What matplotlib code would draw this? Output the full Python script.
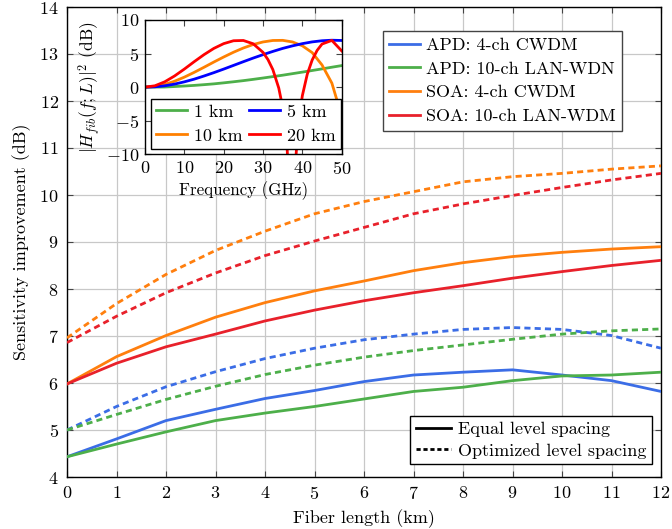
import matplotlib
matplotlib.use("Agg")
import matplotlib.pyplot as plt
from matplotlib.lines import Line2D

plt.rcParams['font.family'] = 'serif'
plt.rcParams['font.serif'] = ['cmr10']
plt.rcParams['mathtext.fontset'] = 'cm'
plt.rcParams['axes.formatter.use_mathtext'] = True
plt.rcParams['axes.unicode_minus'] = True

# main chart data: sensitivity improvement (dB) vs fiber length (km)
km = [0, 1, 2, 3, 4, 5, 6, 7, 8, 9, 10, 11, 12]
apd_cwdm_eq = [4.43, 4.81, 5.2, 5.44, 5.67, 5.84, 6.03, 6.17, 6.23, 6.28, 6.17, 6.05, 5.82]
apd_cwdm_opt = [5.0, 5.5, 5.92, 6.24, 6.52, 6.74, 6.92, 7.04, 7.14, 7.18, 7.14, 7.01, 6.74]
apd_lan_eq = [4.43, 4.7, 4.96, 5.2, 5.36, 5.5, 5.66, 5.82, 5.91, 6.05, 6.15, 6.17, 6.23]
apd_lan_opt = [5.0, 5.33, 5.65, 5.93, 6.18, 6.38, 6.55, 6.69, 6.81, 6.93, 7.04, 7.11, 7.15]
soa_cwdm_eq = [5.98, 6.56, 7.01, 7.4, 7.71, 7.96, 8.17, 8.39, 8.56, 8.69, 8.78, 8.85, 8.9]
soa_cwdm_opt = [6.96, 7.69, 8.31, 8.82, 9.23, 9.6, 9.86, 10.07, 10.28, 10.39, 10.46, 10.55, 10.62]
soa_lan_eq = [5.98, 6.42, 6.77, 7.04, 7.32, 7.55, 7.75, 7.92, 8.07, 8.23, 8.37, 8.5, 8.61]
soa_lan_opt = [6.86, 7.42, 7.92, 8.34, 8.71, 9.02, 9.31, 9.6, 9.81, 9.99, 10.16, 10.32, 10.46]

# inset data: |H_fib(f;L)|^2 in dB vs frequency (GHz)
freq = [0, 2.5, 5, 7.5, 10, 12.5, 15, 17.5, 20, 22.5, 25, 27.5, 30,
        32.5, 35, 37.5, 40, 42.5, 45, 47.5, 50]
h_1km = [0, 0.01, 0.02, 0.09, 0.17, 0.26, 0.37, 0.49, 0.64, 0.8, 0.97, 1.16, 1.36,
         1.57, 1.78, 2.01, 2.24, 2.48, 2.72, 2.97, 3.21]
h_5km = [0, 0.05, 0.2, 0.45, 0.79, 1.19, 1.66, 2.16, 2.69, 3.24, 3.79, 4.33, 4.84,
         5.32, 5.77, 6.15, 6.48, 6.74, 6.91, 6.99, 6.95]
h_10km = [0, 0.1, 0.4, 0.88, 1.49, 2.2, 2.96, 3.74, 4.49, 5.2, 5.83, 6.35, 6.73,
          6.95, 6.97, 6.73, 6.16, 5.14, 3.3, 0.6, -4.3]
freq_20 = [0, 2.5, 5, 7.5, 10, 12.5, 15, 17.5, 20, 22.5, 25, 27.5, 30, 31.25,
           32.5, 34, 35, 36, 37, 37.5, 38, 39, 40, 41.25, 42.5, 43.75, 45, 47.5, 50]
h_20km = [0, 0.2, 0.79, 1.66, 2.69, 3.79, 4.84, 5.77, 6.48, 6.91, 6.95, 6.46, 5.18, 4.11,
          2.61, -0.13, -3.0, -7.6, -19.5, -25.0, -13.3, -5.3, -1.26, 1.93, 4.05, 5.47,
          6.42, 6.96, 5.4]

BLUE = '#3b6de6'
GREEN = '#4daf4a'
ORANGE = '#ff7f0e'
RED = '#e8212b'
DASH = (0, (2.2, 1.5))
LW = 2.0
FS = 13

fig = plt.figure(figsize=(6.72, 5.29), dpi=100)
ax = fig.add_axes([67 / 672, 52 / 529, 594 / 672, 470 / 529])

series = [
    (apd_cwdm_eq, apd_cwdm_opt, BLUE, 'APD: 4-ch CWDM'),
    (apd_lan_eq, apd_lan_opt, GREEN, 'APD: 10-ch LAN-WDN'),
    (soa_cwdm_eq, soa_cwdm_opt, ORANGE, 'SOA: 4-ch CWDM'),
    (soa_lan_eq, soa_lan_opt, RED, 'SOA: 10-ch LAN-WDM'),
]
for eq, opt, c, lab in series:
    ax.plot(km, eq, color=c, lw=LW, zorder=3)
    ax.plot(km, opt, color=c, lw=LW, ls=DASH, zorder=3)

ax.set_xlim(0, 12)
ax.set_ylim(4, 14)
ax.set_xticks(range(0, 13))
ax.set_yticks(range(4, 15))
ax.grid(True, color='#c8c8c8', lw=0.9)
ax.set_axisbelow(True)
ax.tick_params(direction='in', top=True, right=True, length=4, labelsize=FS, pad=6,
               color='#444444')
for s in ax.spines.values():
    s.set_linewidth(1.0)
ax.set_xlabel('Fiber length (km)', fontsize=FS, labelpad=5)
ax.set_ylabel('Sensitivity improvement (dB)', fontsize=FS, labelpad=6)

color_handles = [Line2D([], [], color=c, lw=LW) for _, _, c, _ in series]
leg1 = ax.legend(color_handles, [s[3] for s in series], loc='upper left',
                 bbox_to_anchor=((383 - 67) / 594, 1 - 24 / 470), fontsize=FS,
                 frameon=True, fancybox=False, edgecolor='#444444', framealpha=1,
                 handlelength=1.7, handletextpad=0.35, labelspacing=0.45,
                 borderpad=0.35, borderaxespad=0)
leg1.get_frame().set_linewidth(1.0)
ax.add_artist(leg1)

style_handles = [Line2D([], [], color='black', lw=LW),
                 Line2D([], [], color='black', lw=LW, ls=(0, (1.5, 1.0)))]
leg2 = ax.legend(style_handles, ['Equal level spacing', 'Optimized level spacing'],
                 loc='lower right', bbox_to_anchor=((652 - 67) / 594, 13 / 470),
                 fontsize=FS, frameon=True, fancybox=False, edgecolor='black',
                 framealpha=1, handlelength=1.95, handletextpad=0.4,
                 labelspacing=0.3, borderpad=0.3, borderaxespad=0)
leg2.get_frame().set_linewidth(1.0)

# inset
ins = fig.add_axes([145 / 672, (529 - 154.3) / 529, 196.7 / 672, 134.3 / 529])
ins.set_facecolor('white')
ins.plot(freq, h_1km, color='#4daf4a', lw=LW, label='1 km')
ins.plot(freq, h_10km, color='#ff8000', lw=LW, label='10 km')
ins.plot(freq, h_5km, color='#0000ff', lw=LW, label='5 km')
ins.plot(freq_20, h_20km, color='#ff0000', lw=LW, label='20 km')
ins.set_xlim(0, 50)
ins.set_ylim(-10, 10)
ins.set_xticks([0, 10, 20, 30, 40, 50])
ins.set_yticks([-10, -5, 0, 5, 10])
ins.tick_params(direction='in', top=True, right=True, length=4, labelsize=FS, pad=4,
                color='#444444')
for s in ins.spines.values():
    s.set_linewidth(1.0)
ins.set_xlabel('Frequency (GHz)', fontsize=FS - 0.8, labelpad=3)
ins.set_ylabel(r'$|H_{fib}(f;L)|^2$ (dB)', fontsize=FS - 0.5, labelpad=2)
h, l = ins.get_legend_handles_labels()
leg3 = ins.legend(h, l, ncol=2,
                  loc='lower left', bbox_to_anchor=(0.029, 0.04), fontsize=FS,
                  frameon=True, fancybox=False, edgecolor='black', framealpha=1,
                  handlelength=1.7, handletextpad=0.4, columnspacing=0.35,
                  labelspacing=0.45, borderpad=0.3, borderaxespad=0)
leg3.get_frame().set_linewidth(1.0)

fig.savefig('out.png', dpi=100)
